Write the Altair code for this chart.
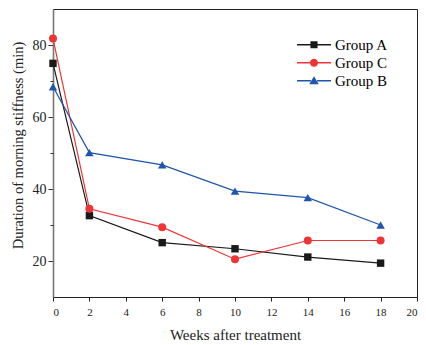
import altair as alt
import pandas as pd

# ---- data ----
weeks = [0, 2, 6, 10, 14, 18]
group_a = [74.9, 32.6, 25.1, 23.4, 21.1, 19.4]
group_c = [81.8, 34.5, 29.4, 20.5, 25.7, 25.7]
group_b = [68.4, 50.1, 46.7, 39.4, 37.6, 30.0]

groups = ["Group A", "Group C", "Group B"]
colors = ["#1a1a1a", "#ee3535", "#1f55aa"]
markers = ["square", "circle", "triangle-up"]
marker_sizes = [55, 64, 72]

x_ticks = list(range(0, 21, 2))
y_major = [20, 40, 60, 80]
y_minor = [30, 50, 70]

series = {"Group A": group_a, "Group C": group_c, "Group B": group_b}
rows = []
for g in groups:
    for w, v in zip(weeks, series[g]):
        rows.append({"Week": w, "Value": v, "Group": g})
df = pd.DataFrame(rows)

FONT = "Liberation Serif"

# legend symbols: a short line with the marker in the middle (unit coords)
line_part = "M-1,-0.04 L-0.18,-0.04 L-0.18,0.04 L-1,0.04 Z M0.18,-0.04 L1,-0.04 L1,0.04 L0.18,0.04 Z "
legend_paths = [
    line_part + "M-0.21,-0.21 L0.21,-0.21 L0.21,0.21 L-0.21,0.21 Z",
    line_part + "M-0.24,0 A0.24,0.24 0 1,1 0.24,0 A0.24,0.24 0 1,1 -0.24,0 Z",
    line_part + "M0,-0.27 L0.28,0.2 L-0.28,0.2 Z",
]

x_enc = alt.X(
    "Week:Q",
    scale=alt.Scale(domain=[0, 20], nice=False),
    axis=alt.Axis(
        values=x_ticks, title="Weeks after treatment", labelFontSize=11,
        tickSize=4, labelPadding=5, titleFontSize=15, titlePadding=10,
        domainColor="#222", tickColor="#222", titleFontWeight="normal",
        labelFont=FONT, titleFont=FONT, labelColor="#222", titleColor="#222",
        grid=False,
    ),
)
y_scale = alt.Scale(domain=[10, 90], nice=False, zero=False)
y_main = alt.Y(
    "Value:Q",
    scale=y_scale,
    axis=alt.Axis(
        values=y_major, title="Duration of morning stiffness (min)",
        labelFontSize=14, tickSize=5, labelPadding=2, orient="left",
        titleFontSize=14.5, titleFontWeight="normal", titleX=-35, titleY=136,
        titleAngle=270, titleAlign="center", titleBaseline="middle",
        domainColor="#777", domainWidth=1.6, tickColor="#333",
        labelFont=FONT, titleFont=FONT, labelColor="#222", titleColor="#222",
        grid=False,
    ),
)
y_minor_enc = alt.Y(
    "Value:Q",
    scale=y_scale,
    axis=alt.Axis(values=y_minor, labels=False, tickSize=3, domain=False,
                  orient="left", title=None, tickColor="#333", grid=False),
)
y_none = alt.Y("Value:Q", scale=y_scale, axis=None)

layers = []
for i, g in enumerate(groups):
    sub = alt.Chart(df).transform_filter(alt.datum.Group == g)
    layers.append(
        sub.mark_line(strokeWidth=1.2, color=colors[i]).encode(
            x=x_enc, y=y_main if i == 0 else y_none)
    )
for i, g in enumerate(groups):
    sub = alt.Chart(df).transform_filter(alt.datum.Group == g)
    layers.append(
        sub.mark_point(shape=markers[i], filled=True, size=marker_sizes[i],
                       opacity=1, color=colors[i]).encode(
            x=x_enc, y=y_minor_enc if i == 0 else y_none)
    )

legend_def = alt.Legend(
    title=None, orient="none", legendX=244, legendY=27, symbolSize=1156,
    symbolStrokeWidth=0, labelFont=FONT, labelFontSize=15, labelColor="black",
    labelOffset=4, rowPadding=0, padding=0, symbolOffset=0, clipHeight=17.5,
)
legend_layer = alt.Chart(df).transform_filter("datum.Week < 0").mark_point(
    filled=True, opacity=1
).encode(
    x=x_enc, y=y_none,
    color=alt.Color("Group:N", scale=alt.Scale(domain=groups, range=colors),
                    legend=legend_def),
    shape=alt.Shape("Group:N", scale=alt.Scale(domain=groups, range=legend_paths),
                    legend=legend_def),
)
layers.append(legend_layer)

chart = alt.layer(*layers).resolve_axis(
    y="independent"
).properties(
    width=364, height=288,
    background="white",
    autosize=alt.AutoSizeParams(type="none"),
    padding={"left": 45, "top": 1, "right": 1, "bottom": 48},
).configure_view(
    stroke="#222", strokeWidth=1
).configure_axis(
    grid=False, labelFont=FONT, titleFont=FONT,
).configure_legend(
    labelFont=FONT
)

chart.save("out.html", embed_options={"renderer": "svg", "actions": False})
